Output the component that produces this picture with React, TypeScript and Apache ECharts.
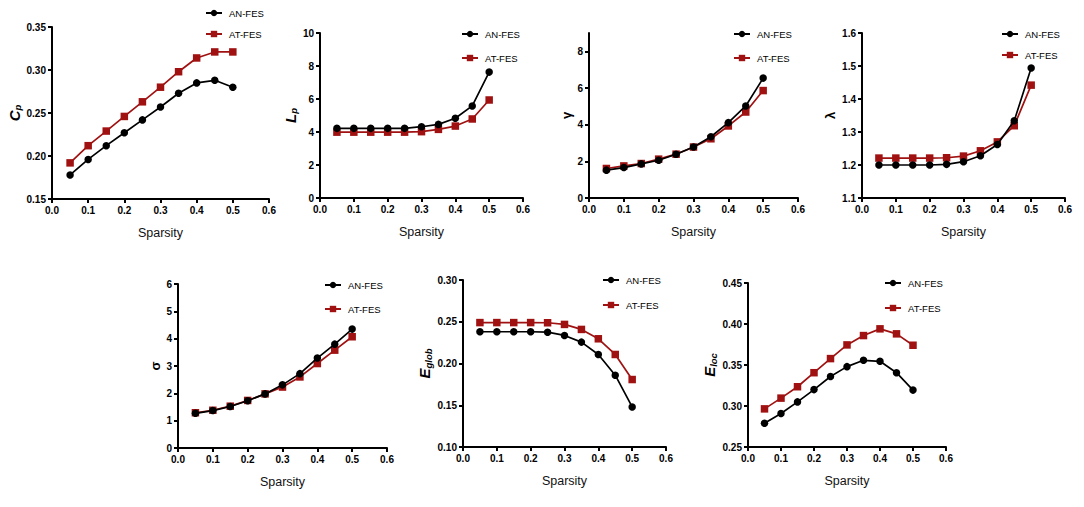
import React, { useEffect, useRef } from "react";
import * as echarts from "echarts";

const sparsity = [0.05, 0.1, 0.15, 0.2, 0.25, 0.3, 0.35, 0.4, 0.45, 0.5];

const cpAN = [0.178, 0.196, 0.212, 0.227, 0.242, 0.257, 0.273, 0.285, 0.288, 0.28];
const cpAT = [0.192, 0.212, 0.229, 0.246, 0.263, 0.28, 0.298, 0.314, 0.321, 0.321];

const lpAN = [4.22, 4.22, 4.22, 4.22, 4.22, 4.32, 4.46, 4.83, 5.58, 7.63];
const lpAT = [3.99, 3.99, 3.99, 3.99, 3.99, 4.02, 4.16, 4.36, 4.79, 5.94];

const gammaAN = [1.52, 1.66, 1.86, 2.06, 2.39, 2.78, 3.34, 4.11, 5.02, 6.54];
const gammaAT = [1.61, 1.75, 1.88, 2.12, 2.39, 2.78, 3.23, 3.93, 4.69, 5.86];

const lambdaAN = [1.2, 1.2, 1.2, 1.2, 1.202, 1.21, 1.228, 1.262, 1.334, 1.494];
const lambdaAT = [1.221, 1.221, 1.221, 1.221, 1.222, 1.227, 1.243, 1.27, 1.319, 1.442];

const sigmaAN = [1.27, 1.37, 1.52, 1.73, 1.98, 2.31, 2.72, 3.29, 3.8, 4.35];
const sigmaAT = [1.29, 1.38, 1.53, 1.74, 1.98, 2.23, 2.6, 3.09, 3.58, 4.07];

const eglobAN = [0.238, 0.238, 0.238, 0.238, 0.2375, 0.2336, 0.2256, 0.2108, 0.186, 0.148];
const eglobAT = [0.249, 0.249, 0.249, 0.249, 0.2488, 0.2468, 0.2408, 0.2296, 0.2108, 0.1808];

const elocAN = [0.279, 0.2908, 0.305, 0.32, 0.336, 0.348, 0.3557, 0.3545, 0.3406, 0.3194];
const elocAT = [0.2965, 0.3096, 0.3235, 0.3406, 0.3578, 0.3745, 0.3859, 0.3941, 0.388, 0.3741];

const xTicks = [0, 0.1, 0.2, 0.3, 0.4, 0.5, 0.6];
const seriesNames = ["AN-FES", "AT-FES"];

const RED = "#a01212";
const FONT = "'Liberation Sans', Arial, sans-serif";

type Panel = {
  name: string;
  an: number[];
  at: number[];
  min: number;
  max: number;
  interval: number;
  decimals: number;
  custom?: number[];
  grid: { left: number; top: number; width: number; height: number };
  legend: { left: number; top: number; gap: number };
  nameGap: number;
};

const panels: Panel[] = [
  {
    name: "{i|C}{s|p}", an: cpAN, at: cpAT, min: 0.15, max: 0.35, interval: 0.05, decimals: 2,
    grid: { left: 52, top: 27, width: 217, height: 172 },
    legend: { left: 205, top: 8, gap: 11 }, nameGap: 29,
  },
  {
    name: "{i|L}{s|p}", an: lpAN, at: lpAT, min: 0, max: 10, interval: 2, decimals: 0,
    grid: { left: 320, top: 33, width: 203, height: 165 },
    legend: { left: 461, top: 29, gap: 14 }, nameGap: 21,
  },
  {
    name: "{g|γ}", an: gammaAN, at: gammaAT, min: 0, max: 9, interval: 2, decimals: 0,
    custom: [0, 2, 4, 6, 8],
    grid: { left: 589, top: 33, width: 209, height: 165 },
    legend: { left: 733, top: 29, gap: 14 }, nameGap: 15,
  },
  {
    name: "{g|λ}", an: lambdaAN, at: lambdaAT, min: 1.1, max: 1.6, interval: 0.1, decimals: 1,
    grid: { left: 862, top: 33, width: 203, height: 165 },
    legend: { left: 1001, top: 29, gap: 11 }, nameGap: 24,
  },
  {
    name: "{g|σ}", an: sigmaAN, at: sigmaAT, min: 0, max: 6, interval: 1, decimals: 0,
    grid: { left: 178, top: 284, width: 209, height: 164 },
    legend: { left: 324, top: 280, gap: 14 }, nameGap: 15,
  },
  {
    name: "{i|E}{s|glob}", an: eglobAN, at: eglobAT, min: 0.1, max: 0.3, interval: 0.05, decimals: 2,
    grid: { left: 463, top: 280, width: 203, height: 167 },
    legend: { left: 602, top: 275, gap: 15 }, nameGap: 30,
  },
  {
    name: "{i|E}{s|loc}", an: elocAN, at: elocAT, min: 0.25, max: 0.45, interval: 0.05, decimals: 2,
    grid: { left: 748, top: 283, width: 198, height: 164 },
    legend: { left: 884, top: 278, gap: 15 }, nameGap: 30,
  },
];

function buildOption() {
  const grid: any[] = [];
  const xAxis: any[] = [];
  const yAxis: any[] = [];
  const series: any[] = [];
  const legend: any[] = [];

  const axisLine = { show: true, lineStyle: { color: "#000", width: 2 } };
  const axisTick = { show: true, length: 4, lineStyle: { color: "#000", width: 2 } };

  panels.forEach((p, i) => {
    grid.push({ ...p.grid, containLabel: false });
    xAxis.push({
      type: "value",
      gridIndex: i,
      min: 0,
      max: 0.6,
      interval: 0.1,
      name: "Sparsity",
      nameLocation: "middle",
      nameGap: 27,
      nameTextStyle: { fontFamily: FONT, fontSize: 12.5, color: "#111" },
      axisLine,
      axisTick,
      splitLine: { show: false },
      axisLabel: {
        margin: 6,
        fontFamily: FONT,
        fontWeight: "bold",
        fontSize: 10,
        color: "#000",
        formatter: (v: number) => v.toFixed(1),
      },
    });
    const yLabel: any = {
      margin: 6,
      fontFamily: FONT,
      fontWeight: "bold",
      fontSize: 10,
      color: "#000",
      formatter: (v: number) => v.toFixed(p.decimals),
    };
    const yTick: any = { ...axisTick };
    if (p.custom) {
      yLabel.customValues = p.custom;
      yTick.customValues = p.custom;
    }
    yAxis.push({
      type: "value",
      gridIndex: i,
      min: p.min,
      max: p.max,
      interval: p.interval,
      name: p.name,
      nameLocation: "middle",
      nameRotate: 90,
      nameGap: p.nameGap,
      nameTextStyle: {
        fontFamily: FONT,
        color: "#000",
        rich: {
          i: { fontFamily: FONT, fontSize: 15, fontWeight: "bold", fontStyle: "italic", lineHeight: 17, verticalAlign: "middle" },
          s: { fontFamily: FONT, fontSize: 9.5, fontWeight: "bold", fontStyle: "italic", lineHeight: 8, verticalAlign: "bottom" },
          g: { fontFamily: FONT, fontSize: 13, fontWeight: "bold", lineHeight: 15 },
        },
      },
      axisLine,
      axisTick: yTick,
      splitLine: { show: false },
      axisLabel: yLabel,
    });
    series.push({
      type: "line",
      name: seriesNames[0],
      xAxisIndex: i,
      yAxisIndex: i,
      data: sparsity.map((x, k) => [x, p.an[k]]),
      symbol: "circle",
      symbolSize: 7.5,
      lineStyle: { color: "#000", width: 1.7 },
      itemStyle: { color: "#000" },
      z: 3,
    });
    series.push({
      type: "line",
      name: seriesNames[1],
      xAxisIndex: i,
      yAxisIndex: i,
      data: sparsity.map((x, k) => [x, p.at[k]]),
      symbol: "rect",
      symbolSize: 7.5,
      lineStyle: { color: RED, width: 1.7 },
      itemStyle: { color: RED },
      z: 2,
    });
    legend.push({
      data: seriesNames,
      orient: "vertical",
      left: p.legend.left,
      top: p.legend.top,
      padding: 0,
      itemGap: p.legend.gap,
      itemWidth: 16,
      itemHeight: 8,
      selectedMode: false,
      textStyle: { fontFamily: FONT, fontSize: 9.5, color: "#000", padding: [0, 0, 0, 2] },
    });
  });

  return {
    animation: false,
    backgroundColor: "#fff",
    grid,
    xAxis,
    yAxis,
    series,
    legend,
  };
}

export default function App() {
  const ref = useRef<HTMLDivElement>(null);
  useEffect(() => {
    if (!ref.current) return;
    const chart = echarts.init(ref.current, undefined, { renderer: "svg" });
    chart.setOption(buildOption());
    return () => chart.dispose();
  }, []);
  return (
    <div
      ref={ref}
      style={{ position: "fixed", left: 0, top: 0, width: 1084, height: 507, background: "#fff" }}
    />
  );
}
